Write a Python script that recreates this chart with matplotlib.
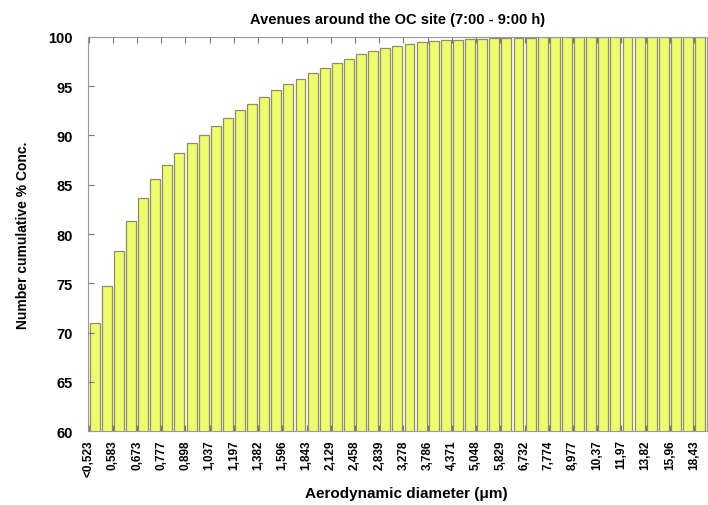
import numpy as np
import matplotlib.pyplot as plt
import matplotlib as mpl

mpl.rcParams['font.family'] = ['Liberation Sans', 'DejaVu Sans']

# cumulative number % per size bin (51 bins, every other one labelled)
cum_pct = [71.0, 74.7, 78.3, 81.3, 83.7, 85.6, 87.0, 88.2, 89.2, 90.1,
           91.0, 91.8, 92.6, 93.2, 93.9, 94.6, 95.2, 95.7, 96.3, 96.8,
           97.4, 97.8, 98.3, 98.6, 98.9, 99.1, 99.3, 99.45, 99.55, 99.65,
           99.72, 99.78, 99.83, 99.87, 99.9, 99.92, 99.94, 99.95, 99.96, 99.97,
           99.98, 99.98, 99.99, 99.99, 100.0, 100.0, 100.0, 100.0, 100.0, 100.0,
           100.0]
tick_labels = ['<0,523', '0,583', '0,673', '0,777', '0,898', '1,037', '1,197',
               '1,382', '1,596', '1,843', '2,129', '2,458', '2,839', '3,278',
               '3,786', '4,371', '5,048', '5,829', '6,732', '7,774', '8,977',
               '10,37', '11,97', '13,82', '15,96', '18,43']

fig = plt.figure(figsize=(7.08, 5.06), dpi=100)
ax = fig.add_axes([0.1243, 0.146, 0.874, 0.779])

x = np.arange(len(cum_pct))
ax.bar(x, cum_pct, width=0.82, color='#f0fc70', edgecolor='#8f8f60', linewidth=0.9)

ax.set_xlim(-0.55, len(cum_pct) - 0.45)
ax.set_ylim(60, 100)
ax.set_yticks(np.arange(60, 101, 5))
ax.set_xticks(np.arange(len(tick_labels)) * 2 - 0.5)
ax.set_xticklabels(tick_labels, rotation=90, fontsize=8.5, fontweight='bold')
for t in ax.get_yticklabels():
    t.set_fontsize(10.5)
    t.set_fontweight('bold')

ax.tick_params(axis='both', direction='in', length=4, color='#777777', width=0.8)
ax.tick_params(axis='x', top=True, pad=6)
ax.tick_params(axis='y', pad=11)
for s in ax.spines.values():
    s.set_color('#999999')
    s.set_linewidth(0.8)

ax.set_title('Avenues around the OC site (7:00 - 9:00 h)', fontsize=10.5,
             fontweight='bold', pad=10)
ax.set_ylabel('Number cumulative % Conc.', fontsize=10, fontweight='bold', labelpad=13)
ax.set_xlabel('Aerodynamic diameter (\u03bcm)', fontsize=11, fontweight='bold')
ax.xaxis.set_label_coords(0.515, -0.138)

fig.savefig('out.png', dpi=100)
